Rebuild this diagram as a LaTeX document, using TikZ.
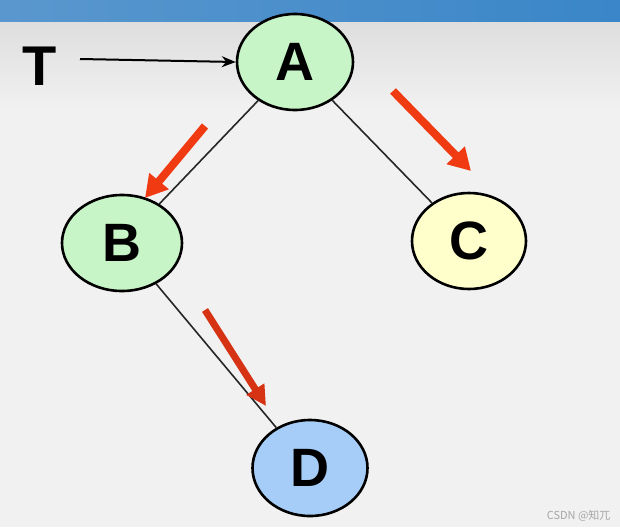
\documentclass[tikz,border=0pt]{standalone}
\usepackage{fontspec}
\setmainfont{Liberation Sans}
\newfontfamily\cjkfont{Noto Sans CJK SC}
\usetikzlibrary{shapes.geometric,arrows.meta}
\definecolor{bgc}{HTML}{F1F1F1}
\definecolor{bgtop}{HTML}{DEDEDE}
\definecolor{barl}{HTML}{5A97CE}
\definecolor{barr}{HTML}{3A86C8}
\definecolor{greenf}{HTML}{C8F5C8}
\definecolor{yellowf}{HTML}{FFFFCC}
\definecolor{bluef}{HTML}{A6CDF7}
\definecolor{redarr}{HTML}{F03A12}
\definecolor{redarrdark}{HTML}{D63314}
\tikzset{
  treenode/.style={ellipse, draw=black, line width=2.6pt, minimum width=116pt, minimum height=96pt, inner sep=0pt, font=\fontsize{54}{54}\selectfont\bfseries},
  treeedge/.style={line width=1.6pt, draw=black!85},
  pointer/.style={line width=2pt, -{Stealth[length=14pt,width=11pt]}},
  redarrow/.style={line width=8pt, draw=redarr, -{Triangle[length=22pt,width=24pt]}},
  redarrowd/.style={line width=7pt, draw=redarrdark, -{Triangle[length=20pt,width=20pt]}},
}
\begin{document}
\begin{tikzpicture}[x=1pt,y=-1pt]
\useasboundingbox (0,0) rectangle (620,527);
\fill[bgc] (0,0) rectangle (620,527);
\shade[top color=bgtop, bottom color=bgc] (0,22) rectangle (620,110);
\shade[left color=barl, right color=barr] (0,0) rectangle (620,22);

\node[treenode, fill=greenf] (A) at (295,62) {A};
\node[treenode, fill=greenf, minimum width=120pt] (B) at (122,243) {B};
\node[treenode, fill=yellowf, minimum width=114pt] (C) at (469,241) {C};
\node[treenode, fill=bluef, minimum width=115pt] (D) at (310,468) {D};

\node[font=\fontsize{56}{56}\selectfont\bfseries] (T) at (40,66) {T};

\draw[treeedge] (A) -- (B);
\draw[treeedge] (A) -- (C);
\draw[treeedge] (B) -- (D);

\coordinate (tstart) at (80,59);
\draw[pointer] (tstart) -- (A.west);

\coordinate (r1s) at (205,126);
\coordinate (r1e) at (145,198);
\coordinate (r2s) at (393,91);
\coordinate (r2e) at (471,171);
\coordinate (r3s) at (205,310);
\coordinate (r3e) at (266,406);
\draw[redarrow] (r1s) -- (r1e);
\draw[redarrow] (r2s) -- (r2e);
\draw[redarrowd] (r3s) -- (r3e);

\node[text=black!35, font=\cjkfont\fontsize{11}{11}\selectfont, anchor=east] (wm) at (614,516) {CSDN @知兀};
\end{tikzpicture}
\end{document}
